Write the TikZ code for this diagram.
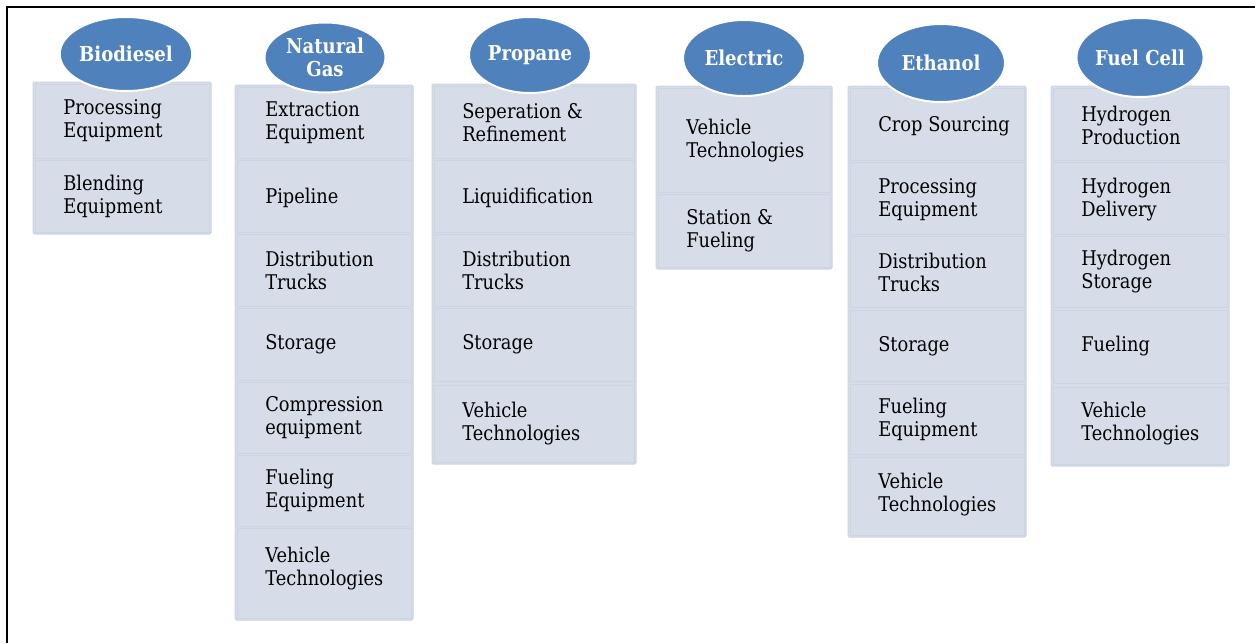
\documentclass[tikz,border=0pt]{standalone}
\usepackage{fontspec}
\setmainfont{DejaVu Serif}[FakeStretch=0.88]
\usetikzlibrary{shapes.geometric}
\definecolor{ellblue}{HTML}{4F81BD}
\definecolor{cellfill}{HTML}{D6DCE8}
\definecolor{cellline}{HTML}{CDD4E3}
\tikzset{
 colbox/.style={draw=cellline, fill=cellfill, line width=0.75pt, rounded corners=1pt, inner sep=0pt},
 cellshape/.style={draw=cellline, fill=cellfill, line width=0.75pt, inner sep=0pt},
 celltext/.style={anchor=west, align=left, inner sep=0pt, font=\fontsize{15.2}{17.25}\selectfont, text=black},
 ell/.style={ellipse, fill=ellblue, draw=white, line width=1.5pt, inner sep=0pt, text=white, align=center, font=\fontsize{15.4}{17.25}\selectfont\bfseries},
 frameline/.style={line width=1.5pt, draw=black},
}
% name, x1, y1, x2, y2
\newcommand\colboxnode[5]{\node[colbox, minimum width={(#4-#2)*0.75pt}, minimum height={(#5-#3)*0.75pt}] (#1) at ({(#2+#4)/2},{(#3+#5)/2}) {};}
% name, x1, y1, x2, y2, text y, text
\newcommand\cellnode[7]{%
 \node[cellshape, minimum width={(#4-#2)*0.75pt}, minimum height={(#5-#3)*0.75pt}] (#1) at ({(#2+#4)/2},{(#3+#5)/2}) {};
 \node[celltext] (#1-t) at ({#2+28},{#6+1.5}) {#7};}
% name, cx, cy, w, h, text
\newcommand\ellnode[6]{\node[ell, minimum width={#4*0.75pt}, minimum height={#5*0.75pt}] (#1) at (#2,#3) {#6};}
\begin{document}
\begin{tikzpicture}[x=0.75pt, y=-0.75pt]
\useasboundingbox (0,0) rectangle (1255,643);
\fill[white] (0,0) rectangle (1255,643);
% frame
\coordinate (fbl) at (7,643);
\coordinate (ftl) at (7,7);
\coordinate (ftr) at (1255,7);
\draw[frameline] (fbl) -- (ftl) -- (ftr);

% ---------- Biodiesel ----------
\colboxnode{bioBox}{33}{82}{211}{234}
\cellnode{bio1}{35}{84}{209}{158}{119.5}{Processing\\Equipment}
\cellnode{bio2}{35}{160}{209}{232}{194.5}{Blending\\Equipment}

% ---------- Natural Gas ----------
\colboxnode{ngBox}{235}{85}{413}{620}
\cellnode{ng1}{237}{87}{411}{158}{121}{Extraction\\Equipment}
\cellnode{ng2}{237}{160}{411}{232}{196}{Pipeline}
\cellnode{ng3}{237}{234}{411}{306}{268.5}{Distribution\\Trucks}
\cellnode{ng4}{237}{308}{411}{380}{343}{Storage}
\cellnode{ng5}{237}{382}{411}{453}{416}{Compression\\equipment}
\cellnode{ng6}{237}{455}{411}{526}{488.5}{Fueling\\Equipment}
\cellnode{ng7}{237}{528}{411}{618}{567.5}{Vehicle\\Technologies}

% ---------- Propane ----------
\colboxnode{prBox}{432}{84}{636}{464}
\cellnode{pr1}{434}{86}{634}{158}{121.5}{Seperation \&\\Refinement}
\cellnode{pr2}{434}{160}{634}{232}{196}{Liquidification}
\cellnode{pr3}{434}{234}{634}{306}{268.5}{Distribution\\Trucks}
\cellnode{pr4}{434}{308}{634}{381}{343}{Storage}
\cellnode{pr5}{434}{385}{634}{462}{422.5}{Vehicle\\Technologies}

% ---------- Electric ----------
\colboxnode{elBox}{656}{86}{832}{269}
\cellnode{el1}{658}{88}{830}{192}{139}{Vehicle\\Technologies}
\cellnode{el2}{658}{194}{830}{267}{229.5}{Station \&\\Fueling}

% ---------- Ethanol ----------
\colboxnode{etBox}{848}{86}{1026}{537}
\cellnode{et1}{850}{88}{1024}{160}{125}{Crop Sourcing}
\cellnode{et2}{850}{162}{1024}{234}{198.5}{Processing\\Equipment}
\cellnode{et3}{850}{236}{1024}{307}{270.5}{Distribution\\Trucks}
\cellnode{et4}{850}{310}{1024}{381}{345}{Storage}
\cellnode{et5}{850}{384}{1024}{454}{417.5}{Fueling\\Equipment}
\cellnode{et6}{850}{457}{1024}{535}{493.5}{Vehicle\\Technologies}

% ---------- Fuel Cell ----------
\colboxnode{fcBox}{1051}{86}{1229}{466}
\cellnode{fc1}{1053}{88}{1227}{160}{124}{Hydrogen\\Production}
\cellnode{fc2}{1053}{162}{1227}{234}{198.5}{Hydrogen\\Delivery}
\cellnode{fc3}{1053}{236}{1227}{307}{270.5}{Hydrogen\\Storage}
\cellnode{fc4}{1053}{310}{1227}{383}{345}{Fueling}
\cellnode{fc5}{1053}{387}{1227}{464}{422.5}{Vehicle\\Technologies}

% ---------- Ellipses ----------
\ellnode{bio}{126}{54}{130}{74}{Biodiesel}
\ellnode{ng}{325}{57.5}{121}{70}{Natural\\Gas}
\ellnode{pr}{530}{55}{122}{76}{Propane}
\ellnode{el}{744}{58}{122}{76}{Electric}
\ellnode{et}{941}{63}{128}{78}{Ethanol}
\ellnode{fc}{1140}{57.5}{124}{79}{Fuel Cell}
\end{tikzpicture}
\end{document}
